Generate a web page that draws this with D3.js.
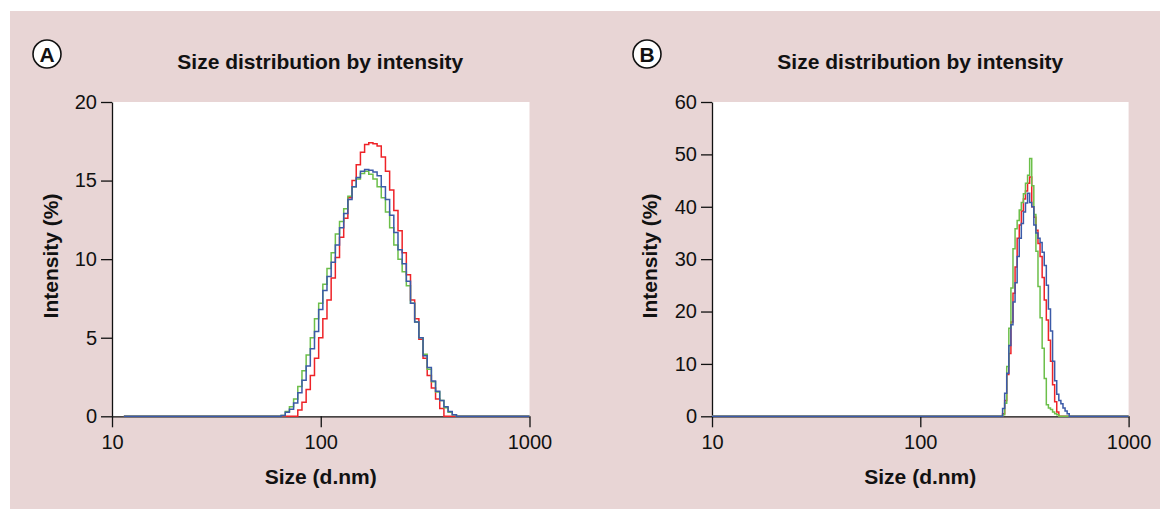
<!DOCTYPE html>
<html><head><meta charset="utf-8">
<script src="https://cdn.jsdelivr.net/npm/d3@7"></script>
<style>
html,body{margin:0;padding:0;background:#fff;}
svg{display:block;font-family:"Liberation Sans",Arial,Helvetica,sans-serif;}
</style></head>
<body>
<svg id="chart" width="1160" height="509"></svg>
<script>
// ---------- data ----------
const panelLabels = ["A", "B"];
const chartTitle = "Size distribution by intensity";
const xAxisTitle = "Size (d.nm)";
const yAxisTitle = "Intensity (%)";
const xTicks = [10, 100, 1000];
const yTicksA = [0, 5, 10, 15, 20];
const yTicksB = [0, 10, 20, 30, 40, 50, 60];
const seriesNames = ["Record 1", "Record 2", "Record 3"];
const seriesColors = ["#ee2328", "#6cbf4a", "#3b5aa8"];

// Panel A (size in d.nm, intensity in %)
const sizesA = [11.4, 63.10, 66.07, 69.18, 72.44, 75.86, 79.43, 83.18, 87.10, 91.20, 95.50,
  100.0, 104.7, 109.6, 114.8, 120.2, 125.9, 131.8, 138.0, 144.5, 151.4,
  158.5, 166.0, 173.8, 182.0, 190.5, 199.5, 208.9, 218.8, 229.1, 239.9,
  251.2, 263.0, 275.4, 288.4, 302.0, 316.2, 331.1, 346.7, 363.1, 380.2,
  398.1, 416.9, 436.5, 457.1, 478.6, 1000];
const redA = [0, 0, 0, 0, 0, 0, 0.4, 0.9, 1.7, 2.6, 3.7,
  5.0, 6.2, 7.4, 8.8, 10.1, 11.4, 12.6, 13.9, 15.0, 16.0,
  16.8, 17.3, 17.4, 17.35, 17.2, 16.5, 15.6, 14.4, 13.1, 11.8,
  10.4, 9.0, 7.4, 6.2, 4.9, 3.7, 2.6, 1.8, 1.1, 0.5,
  0, 0, 0, 0, 0, 0];
const greenA = [0, 0, 0.05, 0.3, 0.6, 1.1, 1.9, 2.9, 3.9, 5.0, 6.2,
  7.2, 8.4, 9.4, 10.4, 11.6, 12.4, 13.2, 14.0, 14.6, 15.1,
  15.45, 15.6, 15.4, 15.1, 14.6, 13.9, 13.0, 12.0, 10.9, 10.0,
  9.2, 8.3, 7.2, 6.0, 5.0, 3.95, 3.0, 2.2, 1.55, 1.0,
  0.55, 0.25, 0.1, 0, 0, 0];
const blueA = [0, 0, 0.05, 0.25, 0.45, 0.85, 1.5, 2.3, 3.2, 4.3, 5.4,
  6.8, 8.0, 8.9, 9.8, 10.9, 12.0, 12.9, 13.8, 14.6, 15.2,
  15.6, 15.7, 15.65, 15.55, 15.3, 14.6, 13.8, 12.8, 11.7, 10.6,
  9.7, 8.6, 7.2, 6.0, 5.0, 3.85, 3.1, 2.25, 1.6, 1.0,
  0.6, 0.3, 0.1, 0, 0, 0];

// Panel B
const sizesB = [10, 245.5, 251.2, 257.0, 263.0, 269.2, 275.4, 281.8, 288.4, 295.1, 302.0,
  309.0, 316.2, 323.6, 331.1, 338.8, 346.7, 354.8, 363.1, 371.5, 380.2,
  389.0, 398.1, 407.4, 416.9, 426.6, 436.5, 446.7, 457.1, 467.7, 478.6,
  489.8, 501.2, 512.9, 524.8, 537.0, 1000];
const redB = [0, 0, 0.5, 3.0, 8.0, 12.0, 18.0, 23.5, 28.5, 34.0, 36.5,
  39.2, 41.5, 43.0, 44.5, 45.7, 40.0, 38.0, 35.5, 33.0, 30.5,
  26.5, 22.2, 18.4, 14.5, 10.5, 6.0, 2.8, 0.8, 0, 0,
  0, 0, 0, 0, 0, 0];
const greenB = [0, 0, 0.3, 2.5, 9.5, 16.8, 24.5, 32.0, 35.8, 37.4, 39.4,
  40.8, 42.5, 44.5, 46.0, 49.2, 44.0, 38.5, 31.5, 24.8, 18.8,
  13.0, 7.2, 2.2, 1.6, 1.3, 0.8, 0.5, 0.3, 0, 0,
  0, 0, 0, 0, 0, 0];
const blueB = [0, 0, 1.5, 4.4, 8.2, 13.5, 17.5, 21.8, 25.5, 30.5, 34.0,
  36.8, 39.0, 40.7, 42.6, 40.8, 40.0, 36.5, 35.0, 34.0, 33.2,
  31.3, 28.8, 25.0, 20.5, 16.3, 10.5, 6.8, 4.2, 3.0, 2.4,
  1.6, 1.0, 0.5, 0, 0, 0];

// ---------- drawing ----------
const svg = d3.select("#chart");
svg.append("rect").attr("x", 10).attr("y", 11).attr("width", 1150).attr("height", 498)
  .attr("fill", "#e8d5d5");

function drawPanel(cfg) {
  const x = d3.scaleLog().domain([10, 1000]).range([cfg.left, cfg.right]);
  const y = d3.scaleLinear().domain([0, cfg.yMax]).range([416.3, 102]);
  const g = svg.append("g");

  g.append("rect").attr("x", cfg.left).attr("y", y(cfg.yMax))
    .attr("width", cfg.right - cfg.left).attr("height", y(0) - y(cfg.yMax))
    .attr("fill", "#ffffff");

  // axes
  const ya = g.append("g").attr("transform", `translate(${cfg.left},0)`)
    .call(d3.axisLeft(y).tickValues(cfg.yTicks).tickSize(11).tickSizeOuter(0).tickPadding(4));
  const xa = g.append("g").attr("transform", `translate(0,${y(0)})`)
    .call(d3.axisBottom(x).tickValues(xTicks).tickFormat(d3.format("d")).tickSize(11).tickSizeOuter(0).tickPadding(8));
  [ya, xa].forEach(a => {
    a.selectAll("path,line").attr("stroke", "#111").attr("stroke-width", 1.3);
    a.selectAll("text").attr("font-size", 20).attr("fill", "#111")
      .attr("font-family", "'Liberation Sans',Arial,sans-serif");
  });

  // series
  const line = d3.line().x(d => x(d.s)).y(d => y(d.v)).curve(d3.curveStep);
  cfg.series.forEach((vals, i) => {
    const pts = cfg.sizes.map((s, k) => ({ s: s, v: vals[k] }));
    g.append("path").datum(pts).attr("d", line)
      .attr("fill", "none").attr("stroke", seriesColors[i]).attr("stroke-width", 1.5)
      .attr("stroke-linejoin", "miter");
  });

  // titles
  g.append("text").attr("x", (cfg.left + cfg.right) / 2 - (cfg.titleShift || 0)).attr("y", 69)
    .attr("text-anchor", "middle").attr("font-size", 21).attr("font-weight", "bold")
    .attr("fill", "#111").text(chartTitle);
  g.append("text").attr("x", x(100)).attr("y", 484)
    .attr("text-anchor", "middle").attr("font-size", 21).attr("font-weight", "bold")
    .attr("fill", "#111").text(xAxisTitle);
  g.append("text").attr("transform", `translate(${cfg.yLabelX},256) rotate(-90)`)
    .attr("text-anchor", "middle").attr("dy", "0.36em").attr("font-size", 21).attr("font-weight", "bold")
    .attr("fill", "#111").text(yAxisTitle);

  // panel badge
  g.append("circle").attr("cx", cfg.badgeX).attr("cy", 54).attr("r", 14)
    .attr("fill", "#fff").attr("stroke", "#111").attr("stroke-width", 1.6);
  g.append("text").attr("x", cfg.badgeX).attr("y", 54).attr("dy", "0.36em")
    .attr("text-anchor", "middle").attr("font-size", 21).attr("font-weight", "bold")
    .attr("fill", "#111").text(cfg.label);
}

drawPanel({ label: panelLabels[0], left: 112, right: 529.5, yMax: 20, yTicks: yTicksA,
  sizes: sizesA, series: [redA, greenA, blueA], yLabelX: 50, badgeX: 47, titleShift: 0.5 });
drawPanel({ label: panelLabels[1], left: 712, right: 1128.6, yMax: 60, yTicks: yTicksB,
  sizes: sizesB, series: [redB, greenB, blueB], yLabelX: 649, badgeX: 647, titleShift: 0 });
</script>
</body></html>
